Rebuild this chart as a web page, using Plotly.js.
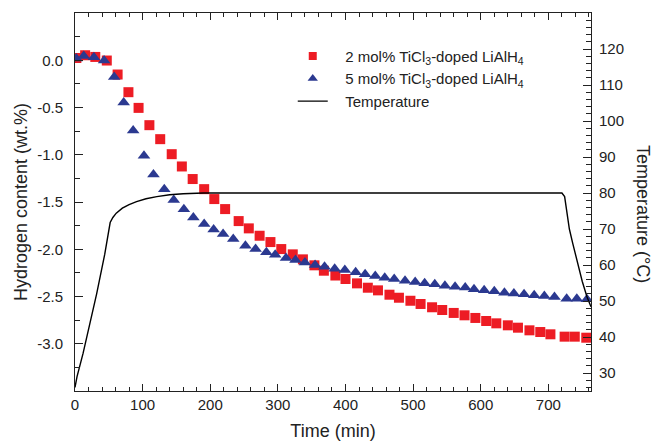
<!DOCTYPE html>
<html><head><meta charset="utf-8">
<script src="https://cdn.plot.ly/plotly-3.0.1.min.js"></script>
<style>html,body{margin:0;padding:0;background:#fff}</style>
</head><body><div id="chart" style="width:654px;height:443px"></div>
<script>
const time2 = [2, 15, 30, 47, 63, 79, 94, 110, 126, 143, 158, 174, 191, 206, 222, 242, 257, 273, 289, 305, 322, 337, 354, 368, 385, 400, 417, 433, 448, 465, 479, 496, 511, 528, 543, 560, 576, 592, 608, 623, 640, 655, 672, 688, 703, 724, 739, 756];
const hydrogen2 = [0.024, 0.053, 0.035, -0.003, -0.151, -0.338, -0.504, -0.687, -0.835, -0.994, -1.124, -1.257, -1.364, -1.469, -1.575, -1.702, -1.779, -1.857, -1.924, -1.998, -2.054, -2.107, -2.170, -2.227, -2.278, -2.315, -2.361, -2.407, -2.435, -2.481, -2.513, -2.545, -2.579, -2.614, -2.643, -2.674, -2.699, -2.727, -2.759, -2.784, -2.805, -2.830, -2.858, -2.876, -2.900, -2.925, -2.925, -2.936];
const time5 = [2, 13, 28, 43, 58, 72, 86, 102, 116, 132, 146, 161, 175, 191, 205, 219, 234, 252, 267, 283, 296, 312, 326, 340, 355, 369, 384, 399, 415, 429, 444, 458, 472, 488, 503, 517, 532, 547, 562, 577, 590, 605, 620, 635, 649, 664, 679, 694, 709, 727, 742, 757];
const hydrogen5 = [0.018, 0.046, 0.032, -0.003, -0.176, -0.448, -0.744, -1.011, -1.209, -1.364, -1.480, -1.577, -1.663, -1.734, -1.790, -1.839, -1.892, -1.963, -1.998, -2.033, -2.058, -2.093, -2.114, -2.139, -2.167, -2.185, -2.206, -2.220, -2.244, -2.265, -2.283, -2.301, -2.315, -2.333, -2.347, -2.361, -2.371, -2.386, -2.397, -2.405, -2.424, -2.435, -2.445, -2.460, -2.467, -2.477, -2.488, -2.495, -2.506, -2.524, -2.524, -2.530];
const tempTime = [0, 3, 12, 32, 44, 52, 56, 61, 70, 80, 91, 105, 121, 140, 160, 190, 250, 400, 550, 720, 724, 728, 731, 736, 742, 750, 757, 763];
const tempValue = [26, 29, 35.5, 52, 63, 71.8, 73.2, 74.4, 75.8, 76.8, 77.6, 78.4, 79, 79.5, 79.8, 80, 80, 80, 80, 80, 79, 74, 70, 66, 61.4, 55.5, 51.2, 48.4];
const yTickVals = [-3.0, -2.5, -2.0, -1.5, -1.0, -0.5, 0.0];
const yTickText = ['-3.0', '-2.5', '-2.0', '-1.5', '-1.0', '-0.5', '0.0'];
const y2TickVals = [30, 40, 50, 60, 70, 80, 90, 100, 110, 120];
const seriesNames = ['2 mol% TiCl<sub>3</sub>-doped LiAlH<sub>4</sub>', '5 mol% TiCl<sub>3</sub>-doped LiAlH<sub>4</sub>', 'Temperature'];

const RED = '#ED1C24', BLUE = '#2B3990', INK = '#222222';
const FONT = '"Liberation Sans", Arial, sans-serif';
const PAD = '\u00a0\u00a0\u00a0';

const traces = [
  {x: time2, y: hydrogen2, type: 'scatter', mode: 'markers', showlegend: false,
   marker: {symbol: 'square', size: 10, color: RED}},
  {x: time5, y: hydrogen5, type: 'scatter', mode: 'markers', showlegend: false,
   marker: {symbol: 'triangle-up', size: 11, color: BLUE}},
  {x: [null], y: [null], type: 'scatter', mode: 'markers', name: PAD + seriesNames[0], legendgroup: 'a',
   marker: {symbol: 'square', size: 8, color: RED}},
  {x: [null], y: [null], type: 'scatter', mode: 'markers', name: PAD + seriesNames[1], legendgroup: 'b',
   marker: {symbol: 'triangle-up', size: 9, color: BLUE}},
  {x: tempTime, y: tempValue, type: 'scatter', mode: 'lines', name: PAD + seriesNames[2], legendgroup: 'c',
   yaxis: 'y2', line: {color: '#000', width: 1.4}}
];

const axisCommon = {
  showline: true, linecolor: INK, linewidth: 1, showgrid: false, zeroline: false,
  ticks: 'inside', tickcolor: INK, tickwidth: 1,
  tickfont: {family: FONT, size: 15, color: INK}
};

const layout = {
  width: 654, height: 443,
  margin: {l: 75, r: 62.5, t: 13.3, b: 52.3},
  paper_bgcolor: '#fff', plot_bgcolor: '#fff',
  font: {family: FONT, color: INK},
  showlegend: true,
  legend: {x: 0.422, y: 0.929, xanchor: 'left', yanchor: 'top', bgcolor: 'rgba(0,0,0,0)',
           font: {family: FONT, size: 15, color: INK}, tracegroupgap: 0, itemwidth: 30},
  xaxis: Object.assign({}, axisCommon, {
    range: [0, 763], tickmode: 'linear', tick0: 0, dtick: 100, ticklen: 7, mirror: 'ticks',
    minor: {tick0: 0, dtick: 20, ticks: 'inside', ticklen: 4, tickcolor: INK},
    title: {text: 'Time (min)', font: {family: FONT, size: 18, color: INK}, standoff: 12}
  }),
  yaxis: Object.assign({}, axisCommon, {
    range: [-3.5, 0.5], tickmode: 'array', tickvals: yTickVals, ticktext: yTickText, ticklen: 8,
    ticklabelstandoff: 8,
    minor: {tick0: 0, dtick: 0.25, ticks: 'inside', ticklen: 5, tickcolor: INK},
    title: {text: 'Hydrogen content (wt.%)', font: {family: FONT, size: 18, color: INK}, standoff: 4}
  }),
  yaxis2: Object.assign({}, axisCommon, {
    range: [25, 130], overlaying: 'y', side: 'right', tickmode: 'array', tickvals: y2TickVals,
    ticklen: 8, ticklabelstandoff: 4,
    minor: {tick0: 30, dtick: 2, ticks: 'inside', ticklen: 5, tickcolor: INK}
  }),
  annotations: [{
    text: 'Temperature (°C)', xref: 'paper', yref: 'paper', x: 1, y: 0.5, xanchor: 'center', yanchor: 'middle',
    xshift: 52, yshift: -12, textangle: 90, showarrow: false,
    font: {family: FONT, size: 18, color: INK}
  }]
};

Plotly.newPlot('chart', traces, layout, {displayModeBar: false, staticPlot: true});
</script></body></html>
